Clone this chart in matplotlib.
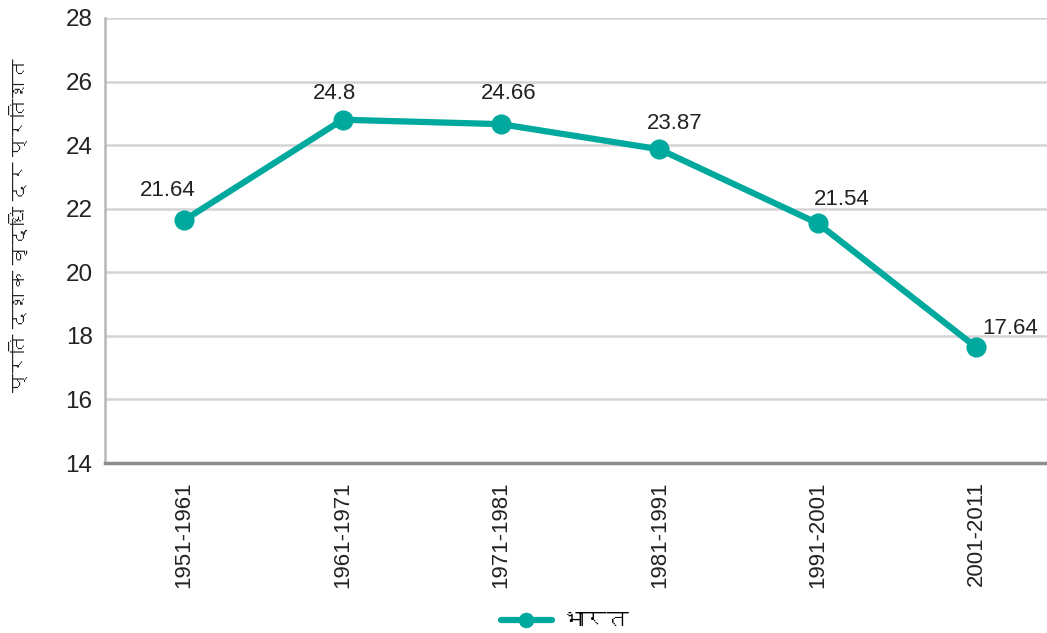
import matplotlib
matplotlib.use("Agg")
import matplotlib.pyplot as plt
from matplotlib import font_manager
from matplotlib.ft2font import FT2Font

# Data
decades = ["1951-1961", "1961-1971", "1971-1981", "1981-1991", "1991-2001", "2001-2011"]
growth = [21.64, 24.8, 24.66, 23.87, 21.54, 17.64]
y_ticks = [14, 16, 18, 20, 22, 24, 26, 28]
y_label = "प्रति दशक वृद्धि दर प्रतिशत"
series_name = "भारत"

# find an installed font that has Devanagari glyphs, if any
deva_font = None
for f in font_manager.fontManager.ttflist:
    try:
        if 0x092D in FT2Font(f.fname).get_charmap():
            deva_font = f.name
            break
    except Exception:
        pass

families = ["Liberation Sans", "DejaVu Sans"]
if deva_font:
    families = ["Liberation Sans", deva_font, "DejaVu Sans"]
plt.rcParams["font.family"] = families

teal = "#00a99d"
txt = "#222222"

fig = plt.figure(figsize=(10.47, 6.33), dpi=100)
ax = fig.add_axes([105 / 1047, 1 - 463 / 633, 942 / 1047, 445 / 633])

x = list(range(len(decades)))
ax.plot(x, growth, color=teal, linewidth=4.5, marker="o", markersize=13.5,
        label=series_name, solid_capstyle="round")

# value labels (offsets in points from each point)
offsets = [(-11.5, 14), (-5.5, 11), (5.5, 14.5), (11, 11), (17.5, 9.5), (24.5, 6)]
for xi, v, off in zip(x, growth, offsets):
    ax.annotate(f"{v:g}", (xi, v), xytext=off, textcoords="offset points",
                ha="center", va="bottom", fontsize=16, color=txt)

ax.set_xlim(-0.5, -0.5 + 942 / 158.4)
ax.set_ylim(14, 28)
ax.set_yticks(y_ticks)
ax.set_xticks(x)
ax.set_xticklabels(decades, rotation=90, fontsize=16, color=txt)
ax.tick_params(axis="y", labelsize=17.5, labelcolor=txt, length=0, pad=9)
ax.tick_params(axis="x", length=0, pad=13)

ax.grid(axis="y", color="#d4d4d4", linewidth=1.8)
ax.set_axisbelow(True)
for s in ["top", "right"]:
    ax.spines[s].set_visible(False)
ax.spines["left"].set_color("#b8b8b8")
ax.spines["left"].set_linewidth(1.8)
ax.spines["bottom"].set_color("#8c8c8c")
ax.spines["bottom"].set_linewidth(2.5)

fig.text(20 / 1047, 1 - 225 / 633, y_label, rotation=90, ha="center", va="center",
         fontsize=14, color=txt)

fig.legend(loc="center", bbox_to_anchor=(565 / 1047, 1 - 622 / 633), frameon=False,
           fontsize=16, handlelength=2.3, handletextpad=0.5, markerscale=0.75)

fig.savefig("out.png", dpi=100)
